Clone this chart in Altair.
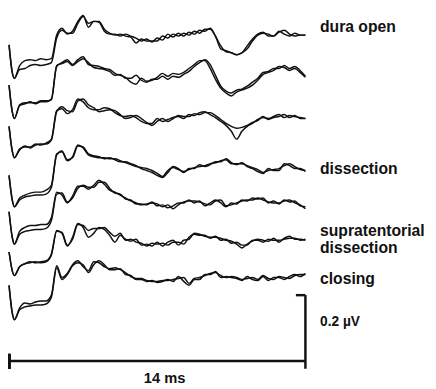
import altair as alt
import pandas as pd

# time grid in ms (0 = stimulus)
TIME_MS = [0, 0.15] + [0.25 * k for k in range(1, 57)]

# trace readings (scale units: 75 units = 0.2 uV, increasing downward), two runs per condition
T1_A = [42,70,76,63,58,57,58,56,57,56,32,25,31,28,18,12,24,18,18,26,30,32,31,33,34,40,36,38,38,38,33,35,31,33,30,32,28,30,26,26,33,46,48,50,52,50,46,38,32,30,31,33,29,27,31,33,32,32]
T1_B = [42,70,76,67,66,63,62,63,62,60,35,27,30,30,20,13,20,18,19,28,31,31,33,31,33,35,38,36,39,35,37,31,34,30,33,29,31,27,28,25,33,43,49,50,52,50,43,36,31,29,33,33,28,31,33,30,32,32]
T2_A = [83,110,117,104,102,100,102,100,100,97,64,60,57,62,57,54,62,63,64,66,67,71,73,75,80,82,76,79,78,75,71,74,71,72,70,66,62,58,58,66,77,86,91,94,90,88,86,83,78,72,70,68,64,65,68,66,70,75]
T2_B = [83,110,117,103,101,101,101,99,99,98,63,61,59,63,59,56,60,65,66,67,69,73,72,76,76,73,78,80,77,77,74,77,74,75,72,69,64,60,57,62,73,84,89,91,88,87,84,80,76,70,69,66,66,63,66,64,68,74]
T3_A = [125,150,157,148,146,146,143,144,142,138,109,107,112,108,97,100,106,108,108,106,107,111,114,115,114,116,120,122,122,117,120,118,116,115,117,113,114,111,110,113,116,120,124,130,138,130,125,122,118,116,117,115,113,116,114,115,116,117]
T3_B = [125,150,157,149,145,147,144,143,143,139,110,105,109,110,99,97,103,106,110,109,108,109,113,117,116,114,117,121,124,120,117,120,117,114,115,115,112,113,111,111,114,118,122,125,127,126,124,121,119,115,118,116,115,113,116,114,117,117]
T4_A = [175,200,207,198,195,193,192,192,190,185,153,151,160,156,144,147,154,156,157,157,158,158,160,162,164,166,167,168,170,173,176,170,167,169,171,169,167,166,165,163,162,160,159,163,163,163,165,167,169,172,170,169,168,165,163,166,169,170]
T4_B = [175,200,207,200,197,196,195,195,194,187,154,150,159,157,145,146,153,155,156,158,157,159,161,161,163,165,168,170,172,175,177,172,166,168,172,168,168,164,166,164,161,161,158,162,164,162,166,168,171,173,168,170,170,163,165,168,168,171]
T5_A = [212,238,245,232,228,226,226,225,225,218,192,195,203,196,186,186,189,185,180,184,190,192,195,198,201,203,205,204,203,204,207,205,209,205,202,201,201,202,204,205,201,200,206,205,203,201,200,200,198,200,202,203,203,201,200,203,205,209]
T5_B = [212,238,245,235,232,231,230,230,229,221,194,193,202,198,188,185,187,187,182,182,188,193,194,199,200,204,204,205,202,206,205,208,206,203,203,200,203,201,206,203,200,203,207,203,204,200,201,198,199,198,203,201,204,200,202,201,206,207]
T6_A = [253,272,277,268,265,263,264,263,262,255,231,234,247,238,224,228,238,234,228,230,236,243,236,240,242,240,246,245,247,243,247,243,241,246,241,240,234,235,237,238,238,239,241,242,245,249,245,242,240,241,242,239,243,239,237,240,240,241]
T6_B = [253,272,277,268,265,264,263,264,263,256,232,233,246,240,225,226,231,229,229,228,233,237,234,241,240,243,244,247,244,245,244,246,243,243,245,238,235,236,236,239,237,241,240,244,243,246,246,241,241,243,240,241,241,240,239,239,241,240]
T7_A = [287,315,322,310,305,306,304,303,303,297,267,279,275,266,262,268,272,263,264,268,270,269,271,274,278,280,280,282,283,283,282,282,281,280,279,285,280,279,277,275,274,277,279,278,279,281,280,279,281,277,280,281,278,279,280,277,276,276]
T7_B = [287,315,322,312,309,308,307,307,306,299,269,281,276,267,264,266,274,266,262,266,271,271,270,276,277,281,281,283,282,284,283,281,283,278,283,287,281,281,276,276,273,279,278,279,280,282,278,281,282,278,282,279,279,281,278,276,278,275]

TRACES = {"1a": T1_A, "1b": T1_B, "2a": T2_A, "2b": T2_B, "3a": T3_A, "3b": T3_B,
          "4a": T4_A, "4b": T4_B, "5a": T5_A, "5b": T5_B, "6a": T6_A, "6b": T6_B,
          "7a": T7_A, "7b": T7_B}

UV_PER_UNIT = 0.2 / 75.0
ORIGIN = 8

rows = []
for name, vals in TRACES.items():
    assert len(vals) == len(TIME_MS), (name, len(vals))
    for t, v in zip(TIME_MS, vals):
        rows.append({"series": name, "ms": t, "uv": -(v - ORIGIN) * UV_PER_UNIT})
df = pd.DataFrame(rows)

LABELS = ["dura open", "dissection", "supratentorial", "dissection", "closing"]
LABEL_BASE = [29, 174, 237, 254, 286]
label_df = pd.DataFrame({"text": LABELS, "ms": [14.69] * 5,
                         "uv": [-(b - ORIGIN) * UV_PER_UNIT for b in LABEL_BASE]})

SCALE_MS = 14
SCALE_UV = 0.2
bar_y = -(364 - ORIGIN) * UV_PER_UNIT
vtop = -(297 - ORIGIN) * UV_PER_UNIT

xs = alt.Scale(domain=[-0.05, -0.05 + 428 / (302 / 14)], nice=False, zero=False)
ys = alt.Scale(domain=[-381 * UV_PER_UNIT, 0], nice=False, zero=False)

lines = alt.Chart(df).mark_line(interpolate="monotone", strokeWidth=1.5, color="#111111").encode(
    x=alt.X("ms:Q", scale=xs, axis=None),
    y=alt.Y("uv:Q", scale=ys, axis=None),
    detail="series:N",
)

hbar = alt.Chart(pd.DataFrame({"x": [0], "x2": [SCALE_MS], "y": [bar_y]})).mark_rule(
    strokeWidth=2.5, color="#111111").encode(x=alt.X("x:Q", scale=xs), x2="x2:Q", y=alt.Y("y:Q", scale=ys))
ltick = alt.Chart(pd.DataFrame({"x": [0.02], "y": [bar_y + 0.02], "y2": [bar_y - 0.022]})).mark_rule(
    strokeWidth=3, color="#111111").encode(x=alt.X("x:Q", scale=xs), y=alt.Y("y:Q", scale=ys), y2="y2:Q")
vbar = alt.Chart(pd.DataFrame({"x": [SCALE_MS], "y": [vtop], "y2": [vtop - SCALE_UV]})).mark_rule(
    strokeWidth=2.5, color="#111111").encode(x=alt.X("x:Q", scale=xs), y=alt.Y("y:Q", scale=ys), y2="y2:Q")
ttick = alt.Chart(pd.DataFrame({"x": [SCALE_MS - 0.45], "x2": [SCALE_MS], "y": [vtop]})).mark_rule(
    strokeWidth=2.5, color="#111111").encode(x=alt.X("x:Q", scale=xs), x2="x2:Q", y=alt.Y("y:Q", scale=ys))

FONT = "Liberation Sans, Arial, Helvetica, sans-serif"
labels = alt.Chart(label_df).mark_text(align="left", baseline="alphabetic", font=FONT,
                                       fontSize=16, fontWeight="bold", color="#111111").encode(
    x=alt.X("ms:Q", scale=xs), y=alt.Y("uv:Q", scale=ys), text="text:N")

uv_label = alt.Chart(pd.DataFrame({"text": ["0.2 \u00b5V"], "ms": [14.69],
                                   "uv": [-(328 - ORIGIN) * UV_PER_UNIT]})).mark_text(
    align="left", baseline="alphabetic", font=FONT, fontSize=14, fontWeight="bold", color="#111111").encode(
    x=alt.X("ms:Q", scale=xs), y=alt.Y("uv:Q", scale=ys), text="text:N")

ms_label = alt.Chart(pd.DataFrame({"text": ["14 ms"], "ms": [7.35],
                                   "uv": [-(387 - ORIGIN) * UV_PER_UNIT]})).mark_text(
    align="center", baseline="alphabetic", font=FONT, fontSize=15, fontWeight="bold", color="#111111").encode(
    x=alt.X("ms:Q", scale=xs), y=alt.Y("uv:Q", scale=ys), text="text:N")

chart = alt.layer(lines, hbar, ltick, vbar, ttick, labels, uv_label, ms_label).properties(
    width=428, height=381, padding=0, autosize=alt.AutoSizeParams(type="none"),
    background="white",
).configure_view(stroke=None)

chart.save("out.html", embed_options={"renderer": "svg", "actions": False})
